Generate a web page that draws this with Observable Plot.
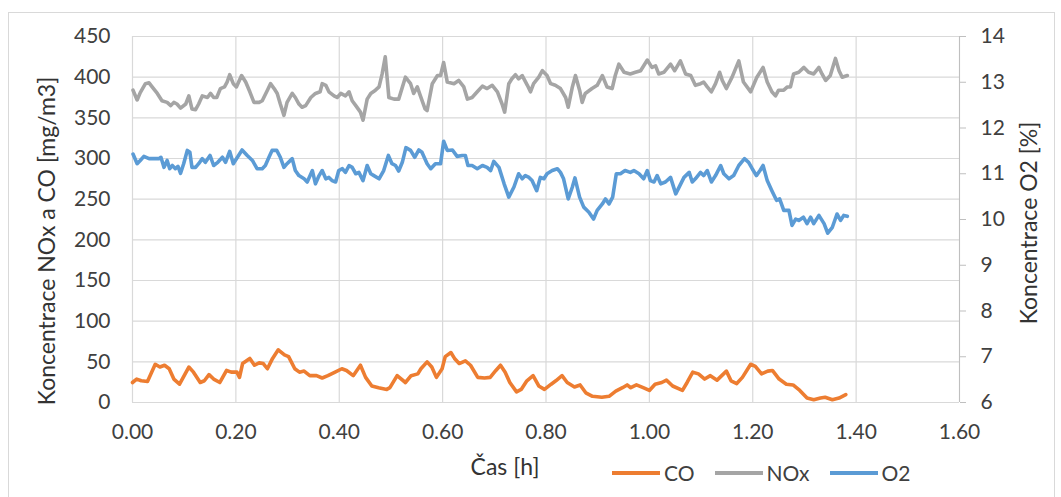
<!DOCTYPE html>
<html>
<head>
<meta charset="utf-8">
<script src="https://cdn.jsdelivr.net/npm/d3@7"></script>
<script src="https://cdn.jsdelivr.net/npm/@observablehq/plot@0.6"></script>
<style>
  html, body { margin: 0; padding: 0; background: #fff; }
  #wrap { position: relative; width: 1061px; height: 497px; overflow: hidden; font-family: Lato, "Open Sans", sans-serif; color: #404040; }
  #frame { position: absolute; left: 8px; top: 12px; width: 1047px; height: 500px; border: 1px solid #d9d9d9; box-sizing: border-box; }
  #chart { position: absolute; left: 0; top: 0; }
  .title { position: absolute; font-size: 23px; color: #333; white-space: nowrap; }
  .vt { transform: translate(-50%, -50%) rotate(-90deg); }
  .ht { transform: translate(-50%, -50%); }
  #legend { position: absolute; left: 612px; top: 460px; font-size: 21px; color: #404040; display: flex; align-items: center; white-space: nowrap; }
  .sw { display: inline-block; width: 48px; height: 4px; margin-right: 4px; }
  .li { display: flex; align-items: center; margin-right: 20px; }
</style>
</head>
<body>
<div id="wrap">
  <div id="frame"></div>
  <div id="chart"></div>
  <div class="title vt" id="ylab" style="left:46px; top:241px;"></div>
  <div class="title vt" id="y2lab" style="left:1028px; top:223px;"></div>
  <div class="title ht" id="xlab" style="left:505px; top:466px;"></div>
  <div id="legend"></div>
</div>
<script>
// ---------- data ----------
const seriesNames = ["CO", "NOx", "O2"];
const seriesColors = ["#ED7D31", "#A5A5A5", "#5B9BD5"];
const xTitle = "Čas [h]";
const yTitle = "Koncentrace NOx a CO [mg/m3]";
const y2Title = "Koncentrace O2 [%]";
const xTicks = [0, 0.2, 0.4, 0.6, 0.8, 1.0, 1.2, 1.4, 1.6];
const yTicks = [0, 50, 100, 150, 200, 250, 300, 350, 400, 450];
const y2Ticks = [6, 7, 8, 9, 10, 11, 12, 13, 14];

// CO [mg/m3] vs time [h]
const coT = [0.000,0.008,0.017,0.029,0.044,0.053,0.062,0.071,0.080,0.091,0.100,0.109,0.118,0.131,0.139,0.148,0.157,0.169,0.182,0.191,0.202,0.207,0.213,0.227,0.236,0.245,0.253,0.261,0.271,0.282,0.294,0.302,0.314,0.323,0.332,0.343,0.356,0.367,0.378,0.392,0.405,0.414,0.427,0.441,0.451,0.463,0.476,0.492,0.498,0.512,0.528,0.539,0.552,0.558,0.570,0.579,0.588,0.599,0.605,0.616,0.623,0.632,0.644,0.654,0.668,0.681,0.692,0.703,0.712,0.721,0.730,0.743,0.752,0.763,0.775,0.786,0.797,0.810,0.819,0.831,0.841,0.855,0.866,0.877,0.890,0.908,0.922,0.935,0.948,0.957,0.964,0.975,0.988,1.000,1.011,1.024,1.033,1.045,1.064,1.073,1.084,1.095,1.107,1.118,1.131,1.149,1.158,1.169,1.180,1.196,1.205,1.217,1.229,1.238,1.251,1.265,1.278,1.291,1.305,1.318,1.331,1.340,1.354,1.367,1.380];
const coV = [24.6,28.8,26.7,25.8,47,43.6,45.8,41.5,28.8,22.5,33,43.6,37.3,24.6,26.7,34.3,28.8,24.6,39.4,37.3,37.3,30.9,47.9,54.2,45.8,48.7,47.9,41.5,54.2,64.8,58.5,56.4,41.5,37.3,38.6,33,33,30.1,33,37.3,41.5,39.4,33,45.8,30.9,20.3,18.2,16.1,18.2,33,24.6,33,35.2,41.5,50,43.6,30.9,41.5,56.4,61.4,54.2,47.9,51.3,45.8,30.9,30.1,30.9,39.4,45.8,37.3,24.6,13.1,16.1,26.7,33,20.3,16.1,22.5,26.7,33,24.6,19.1,21.6,11.9,7.6,6.4,7.6,14,18.2,21.6,18.2,21.6,18.2,14.8,22.5,24.6,27.5,20.3,14.8,24.6,37.3,35.2,28.8,33,27.5,38.6,26.7,23.3,30.9,47,44.5,35.2,38.6,39.4,28.8,22.5,21.6,14.8,5.5,3.4,5.5,6.4,3.4,5.5,9.7];

// NOx [mg/m3] vs time [h]
const noxT = [0.001,0.009,0.015,0.025,0.032,0.038,0.048,0.057,0.067,0.074,0.080,0.086,0.093,0.103,0.109,0.115,0.122,0.128,0.135,0.145,0.151,0.157,0.163,0.170,0.178,0.183,0.188,0.195,0.201,0.211,0.219,0.227,0.235,0.245,0.251,0.261,0.267,0.274,0.280,0.286,0.293,0.299,0.309,0.315,0.322,0.328,0.335,0.345,0.354,0.363,0.367,0.374,0.380,0.390,0.396,0.403,0.412,0.419,0.425,0.432,0.441,0.446,0.454,0.461,0.470,0.477,0.483,0.489,0.496,0.506,0.515,0.528,0.538,0.544,0.551,0.557,0.566,0.570,0.580,0.590,0.596,0.602,0.609,0.622,0.631,0.641,0.648,0.657,0.667,0.677,0.686,0.696,0.706,0.715,0.720,0.728,0.734,0.741,0.747,0.754,0.764,0.770,0.776,0.786,0.793,0.802,0.809,0.818,0.828,0.838,0.843,0.851,0.857,0.865,0.870,0.876,0.889,0.899,0.909,0.918,0.928,0.934,0.941,0.951,0.963,0.973,0.983,0.996,1.005,1.012,1.018,1.028,1.041,1.049,1.060,1.070,1.080,1.089,1.099,1.105,1.112,1.120,1.128,1.136,1.141,1.149,1.160,1.173,1.182,1.196,1.208,1.220,1.228,1.237,1.244,1.250,1.260,1.267,1.273,1.279,1.289,1.299,1.308,1.318,1.328,1.334,1.341,1.350,1.360,1.367,1.373,1.383];
const noxV = [384,372,381,392,393,388,380,371,369,365,369,367,362,367,377,361,360,367,377,375,380,375,375,386,388,394,403,392,388,402,394,382,369,369,371,384,392,386,380,367,353,369,380,375,367,363,365,375,380,382,392,390,382,377,375,380,377,382,371,365,357,347,373,380,384,388,404,425,375,373,373,400,392,380,388,377,361,359,392,402,402,418,394,392,396,388,373,375,382,389,386,390,382,367,357,392,398,403,398,402,390,382,392,400,408,402,392,390,386,375,363,388,402,384,369,380,386,390,402,388,386,402,416,406,404,406,408,421,412,414,404,406,416,408,420,404,402,390,392,394,388,382,392,406,396,386,400,420,394,382,400,412,394,382,377,384,384,388,388,404,406,412,406,404,412,404,396,402,423,408,400,402];

// O2 [%] vs time [h]
const o2T = [0.001,0.009,0.015,0.022,0.032,0.041,0.051,0.055,0.061,0.067,0.072,0.077,0.083,0.088,0.093,0.099,0.106,0.111,0.115,0.122,0.128,0.135,0.141,0.150,0.157,0.165,0.174,0.180,0.188,0.195,0.203,0.212,0.222,0.232,0.241,0.251,0.257,0.264,0.270,0.279,0.286,0.293,0.299,0.309,0.315,0.322,0.332,0.338,0.348,0.354,0.361,0.367,0.374,0.380,0.386,0.393,0.399,0.406,0.412,0.419,0.425,0.432,0.438,0.446,0.454,0.461,0.467,0.477,0.486,0.495,0.502,0.509,0.515,0.522,0.529,0.538,0.546,0.554,0.560,0.570,0.577,0.586,0.596,0.602,0.609,0.619,0.628,0.638,0.644,0.649,0.657,0.667,0.677,0.686,0.693,0.699,0.709,0.719,0.728,0.738,0.747,0.754,0.760,0.767,0.773,0.782,0.789,0.796,0.802,0.812,0.822,0.828,0.834,0.843,0.851,0.856,0.865,0.873,0.883,0.892,0.899,0.909,0.915,0.922,0.929,0.936,0.944,0.953,0.963,0.970,0.980,0.989,0.996,1.002,1.009,1.015,1.022,1.031,1.041,1.051,1.059,1.067,1.077,1.083,1.089,1.099,1.105,1.112,1.120,1.128,1.138,1.144,1.154,1.163,1.173,1.184,1.192,1.199,1.207,1.214,1.220,1.228,1.237,1.246,1.252,1.260,1.270,1.276,1.283,1.289,1.298,1.305,1.312,1.318,1.328,1.338,1.345,1.354,1.363,1.370,1.376,1.383];
const o2V = [11.43,11.22,11.29,11.38,11.33,11.33,11.33,11.36,11.14,11.29,11.11,11.18,11.11,11.16,11.01,11.22,11.51,11.47,11.14,11.14,11.22,11.33,11.25,11.40,11.18,11.25,11.36,11.25,11.49,11.22,11.36,11.52,11.40,11.29,11.11,11.11,11.18,11.36,11.51,11.51,11.36,11.14,11.22,11.33,11.07,10.96,10.89,10.82,11.07,10.78,10.96,11.07,10.89,10.92,10.85,10.82,11.07,11.11,11.03,11.18,11.14,11.00,11.03,10.85,11.18,11.00,10.96,10.89,11.07,11.40,11.22,11.18,11.06,11.25,11.57,11.51,11.36,11.52,11.47,11.22,11.11,11.22,11.22,11.71,11.51,11.52,11.38,11.40,11.40,11.18,11.18,11.11,11.18,11.14,11.07,11.27,11.14,10.78,10.49,10.71,11.00,10.89,10.96,10.92,10.85,10.63,10.92,10.89,11.00,11.07,11.11,11.03,10.89,10.45,10.71,10.91,10.49,10.27,10.16,10.01,10.20,10.34,10.45,10.34,10.49,11.00,11.00,11.07,11.03,11.07,11.00,10.89,11.07,10.85,10.82,10.96,10.78,10.82,10.92,10.56,10.74,10.92,11.03,10.82,10.89,11.03,10.96,11.07,10.82,10.96,11.18,11.00,10.89,10.96,11.18,11.33,11.25,11.11,10.96,11.07,11.18,10.85,10.63,10.42,10.45,10.20,10.20,9.87,10.01,9.98,10.05,9.91,10.05,9.91,10.09,9.91,9.70,9.83,10.12,9.98,10.09,10.07];

// ---------- chart ----------
const yMax = 450, y2Min = 6, y2Max = 14;
const toLeft = v => (v - y2Min) / (y2Max - y2Min) * yMax; // map O2 onto left scale

const co = coT.map((t, i) => ({t, v: coV[i]}));
const nox = noxT.map((t, i) => ({t, v: noxV[i]}));
const o2 = o2T.map((t, i) => ({t, v: toLeft(o2V[i])}));

const gridColor = "#d9d9d9";
const lineW = 3.6;

const chart = Plot.plot({
  width: 1061,
  height: 497,
  marginLeft: 132,
  marginRight: 102,
  marginTop: 36,
  marginBottom: 95,
  style: { fontFamily: "Lato, 'Open Sans', sans-serif", fontSize: "21px", color: "#404040", background: "transparent" },
  x: { domain: [0, 1.6] },
  y: { domain: [0, yMax] },
  marks: [
    Plot.gridY(yTicks, { stroke: gridColor, strokeOpacity: 1, strokeWidth: 1.2 }),
    Plot.gridX(xTicks, { stroke: gridColor, strokeOpacity: 1, strokeWidth: 1.2 }),
    Plot.axisY(yTicks, { anchor: "left", tickSize: 0, tickPadding: 22, label: null, fill: "#404040" }),
    Plot.axisY(y2Ticks.map(toLeft), { anchor: "right", tickSize: 6, tickPadding: 15, label: null,
      tickFormat: d => String(Math.round(d / yMax * (y2Max - y2Min) + y2Min)), stroke: "#bfbfbf", fill: "#404040" }),
    Plot.ruleX([1.6], { stroke: "#bfbfbf" }),
    Plot.axisX(xTicks, { tickSize: 0, tickPadding: 22, label: null, tickFormat: d => d.toFixed(2), fill: "#404040" }),
    Plot.line(co, { x: "t", y: "v", stroke: seriesColors[0], strokeWidth: lineW, strokeLinejoin: "round", strokeLinecap: "round" }),
    Plot.line(nox, { x: "t", y: "v", stroke: seriesColors[1], strokeWidth: lineW, strokeLinejoin: "round", strokeLinecap: "round" }),
    Plot.line(o2, { x: "t", y: "v", stroke: seriesColors[2], strokeWidth: lineW, strokeLinejoin: "round", strokeLinecap: "round" })
  ]
});
document.getElementById("chart").appendChild(chart);

document.getElementById("ylab").textContent = yTitle;
document.getElementById("y2lab").textContent = y2Title;
document.getElementById("xlab").textContent = xTitle;

const legend = document.getElementById("legend");
seriesNames.forEach((name, i) => {
  const item = document.createElement("div");
  item.className = "li";
  const sw = document.createElement("span");
  sw.className = "sw";
  sw.style.background = seriesColors[i];
  const lab = document.createElement("span");
  lab.textContent = name;
  item.appendChild(sw);
  item.appendChild(lab);
  legend.appendChild(item);
});
</script>
</body>
</html>
